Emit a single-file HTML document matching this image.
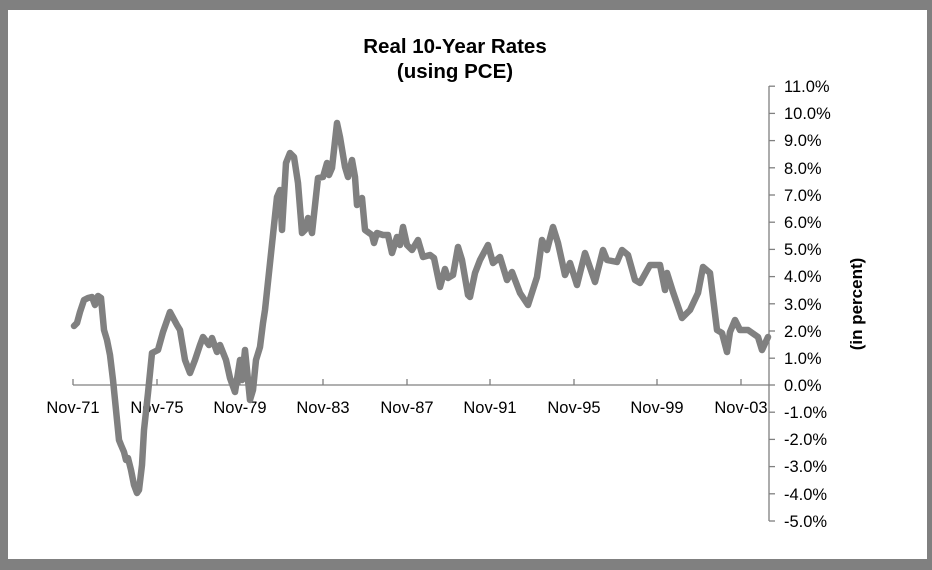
<!DOCTYPE html>
<html><head><meta charset="utf-8"><style>
html,body{margin:0;padding:0;background:#808080;}
svg{display:block;}
</style></head><body>
<svg width="932" height="570" xmlns="http://www.w3.org/2000/svg" font-family="Liberation Sans, Arial, sans-serif">
<rect x="0" y="0" width="932" height="570" fill="#808080"/>
<rect x="8" y="10" width="919" height="549" fill="#fff"/>
<text x="455" y="53" font-size="20.5" font-weight="bold" text-anchor="middle">Real 10-Year Rates</text>
<text x="455" y="78" font-size="20.5" font-weight="bold" text-anchor="middle">(using PCE)</text>
<g stroke="#808080" stroke-width="1.3" fill="none">
<line x1="73" y1="385" x2="769" y2="385"/>
<line x1="769" y1="86" x2="769" y2="521"/>
</g>
<g stroke="#808080" stroke-width="1.3">
<line x1="73" y1="379" x2="73" y2="385"/><line x1="157" y1="379" x2="157" y2="385"/><line x1="240" y1="379" x2="240" y2="385"/><line x1="323" y1="379" x2="323" y2="385"/><line x1="407" y1="379" x2="407" y2="385"/><line x1="490" y1="379" x2="490" y2="385"/><line x1="574" y1="379" x2="574" y2="385"/><line x1="657" y1="379" x2="657" y2="385"/><line x1="741" y1="379" x2="741" y2="385"/>
<line x1="769" y1="86.2" x2="775" y2="86.2"/><line x1="769" y1="113.4" x2="775" y2="113.4"/><line x1="769" y1="140.6" x2="775" y2="140.6"/><line x1="769" y1="167.8" x2="775" y2="167.8"/><line x1="769" y1="195" x2="775" y2="195"/><line x1="769" y1="222.2" x2="775" y2="222.2"/><line x1="769" y1="249.4" x2="775" y2="249.4"/><line x1="769" y1="276.6" x2="775" y2="276.6"/><line x1="769" y1="303.8" x2="775" y2="303.8"/><line x1="769" y1="331" x2="775" y2="331"/><line x1="769" y1="358.2" x2="775" y2="358.2"/><line x1="769" y1="385" x2="775" y2="385"/><line x1="769" y1="412.2" x2="775" y2="412.2"/><line x1="769" y1="439.4" x2="775" y2="439.4"/><line x1="769" y1="466.6" x2="775" y2="466.6"/><line x1="769" y1="493.8" x2="775" y2="493.8"/><line x1="769" y1="521" x2="775" y2="521"/>
</g>
<g font-size="16.5" text-anchor="middle">
<text x="73" y="413">Nov-71</text><text x="157" y="413">Nov-75</text><text x="240" y="413">Nov-79</text><text x="323" y="413">Nov-83</text><text x="407" y="413">Nov-87</text><text x="490" y="413">Nov-91</text><text x="574" y="413">Nov-95</text><text x="657" y="413">Nov-99</text><text x="741" y="413">Nov-03</text>
</g>
<g font-size="16.5">
<text x="784" y="92">11.0%</text><text x="784" y="119">10.0%</text><text x="784" y="146">9.0%</text><text x="784" y="174">8.0%</text><text x="784" y="201">7.0%</text><text x="784" y="228">6.0%</text><text x="784" y="255">5.0%</text><text x="784" y="282">4.0%</text><text x="784" y="310">3.0%</text><text x="784" y="337">2.0%</text><text x="784" y="364">1.0%</text><text x="784" y="391">0.0%</text><text x="784" y="418">-1.0%</text><text x="784" y="445">-2.0%</text><text x="784" y="472">-3.0%</text><text x="784" y="500">-4.0%</text><text x="784" y="527">-5.0%</text>
</g>
<text transform="translate(862,304) rotate(-90)" font-size="17" font-weight="bold" text-anchor="middle">(in percent)</text>
<polyline fill="none" stroke="#808080" stroke-width="6.5" stroke-linejoin="round" stroke-linecap="round" points="
74,326 77,323 80,312 84,300 88,298 92,297 95,305 98,296 101,298 104,330 107,340 110,355 113,380 116,410 119,440 121,445 124,452 126,460 128,458 131,470 134,485 137,493 139,490 142,465 144,430 148,393 152,353 158,350 163,332 170,312 177,325 180,330 185,360 190,373 195,360 200,345 203,337 209,345 212,338 217,352 220,345 226,360 230,378 235,392 240,360 242,380 245,350 247,370 250,400 253,390 256,360 260,347 263,323 265,310 270,263 277,197 280,190 282,230 286,163 290,153 294,157 298,183 302,233 305,230 308,218 312,233 317,187 318,178 323,177 327,163 329,175 332,168 337,123 340,137 345,167 348,177 352,160 355,177 357,205 362,198 365,230 372,235 374,243 377,233 383,235 388,235 392,253 397,237 400,245 403,227 407,245 412,250 418,240 423,257 430,255 434,258 440,287 445,269 448,278 453,275 458,247 462,260 468,295 470,297 475,273 480,260 488,245 493,263 500,257 507,280 512,272 520,293 528,305 537,277 542,240 547,250 553,227 558,243 565,275 570,263 577,285 585,253 595,282 603,250 607,260 617,262 622,250 628,255 635,280 640,283 650,265 660,265 665,290 667,273 673,292 682,318 690,310 698,293 703,267 710,273 717,330 722,333 727,352 730,332 735,320 740,330 748,330 758,337 762,350 768,337"/>
</svg>
</body></html>
